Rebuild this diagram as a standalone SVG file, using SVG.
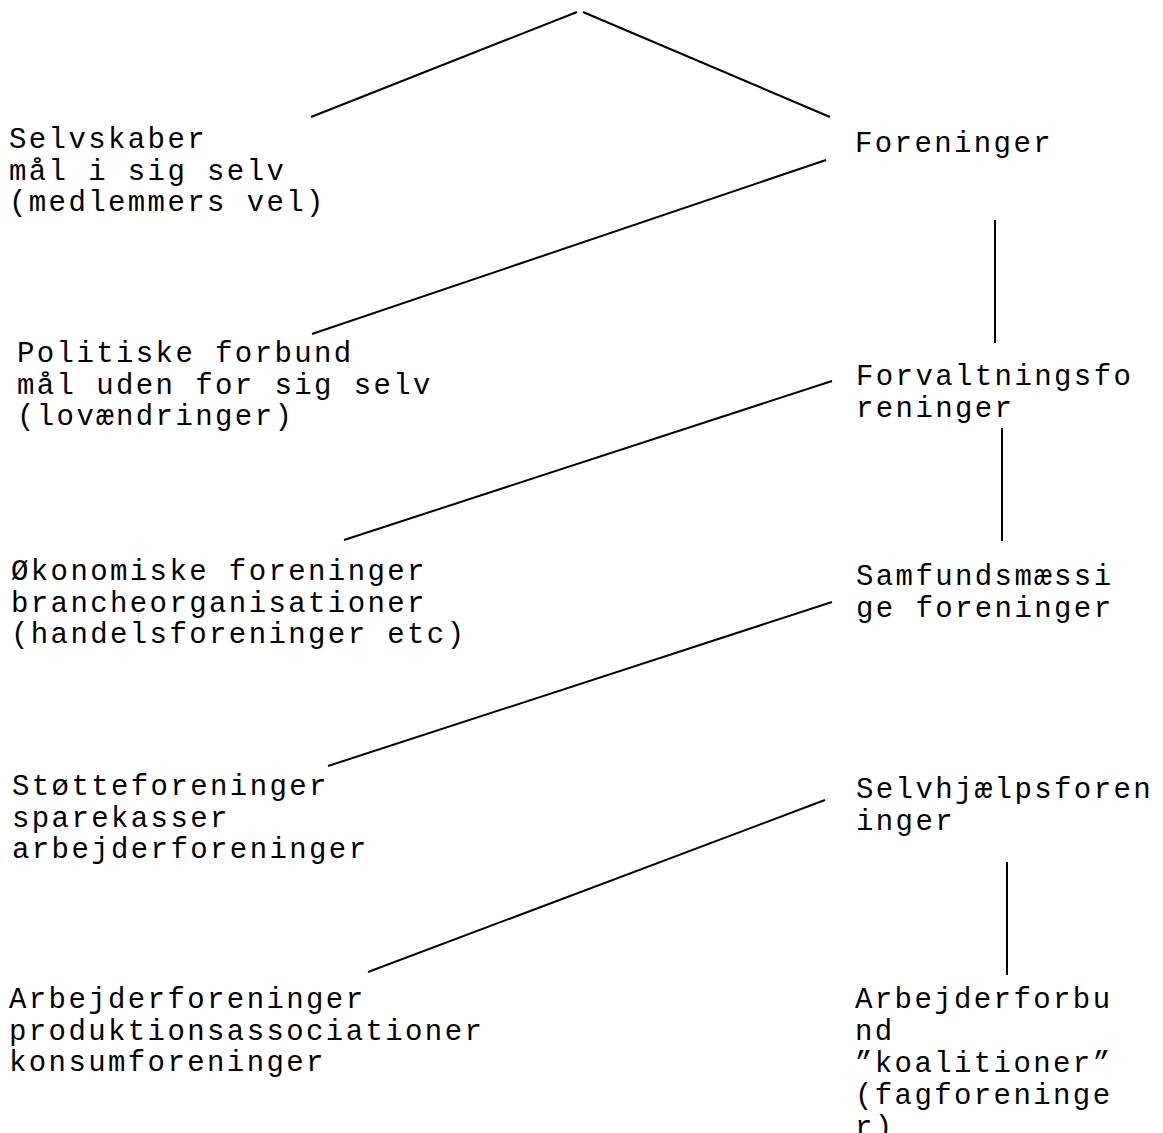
<svg xmlns="http://www.w3.org/2000/svg" width="1163" height="1133" viewBox="0 0 1163 1133">
<style>
text { font-family: "Liberation Mono", "Courier New", monospace; font-size: 29px; letter-spacing: 2.4px; fill: #000; }
line { stroke: #000; stroke-width: 2; }
</style>
<rect width="1163" height="1133" fill="#fff"/>
<g id="connectors">
<line x1="311" y1="117" x2="577" y2="12"/>
<line x1="583" y1="12" x2="830" y2="117"/>
<line x1="826" y1="160" x2="312" y2="334"/>
<line x1="995" y1="220" x2="995" y2="343"/>
<line x1="832" y1="381" x2="344" y2="540"/>
<line x1="1002" y1="428" x2="1002" y2="541"/>
<line x1="832" y1="602" x2="328" y2="766"/>
<line x1="825" y1="800" x2="368" y2="972"/>
<line x1="1007" y1="862" x2="1007" y2="975"/>
</g>
<g id="selvskaber"><text x="9" y="148">Selvskaber</text><text x="9" y="180">mål i sig selv</text><text x="9" y="211">(medlemmers vel)</text></g>
<g id="politiske"><text x="17" y="362">Politiske forbund</text><text x="17" y="394">mål uden for sig selv</text><text x="17" y="425">(lovændringer)</text></g>
<g id="okonomiske"><text x="11" y="580">Økonomiske foreninger</text><text x="11" y="612">brancheorganisationer</text><text x="11" y="643">(handelsforeninger etc)</text></g>
<g id="stotte"><text x="12" y="795">Støtteforeninger</text><text x="12" y="827">sparekasser</text><text x="12" y="858">arbejderforeninger</text></g>
<g id="arbejderforeninger"><text x="9" y="1008">Arbejderforeninger</text><text x="9" y="1040">produktionsassociationer</text><text x="9" y="1071">konsumforeninger</text></g>
<g id="foreninger"><text x="855" y="152">Foreninger</text></g>
<g id="forvaltning"><text x="856" y="385">Forvaltningsfo</text><text x="856" y="417">reninger</text></g>
<g id="samfund"><text x="856" y="585">Samfundsmæssi</text><text x="856" y="617">ge foreninger</text></g>
<g id="selvhjaelp"><text x="856" y="798">Selvhjælpsforen</text><text x="856" y="830">inger</text></g>
<g id="arbejderforbund"><text x="855" y="1008">Arbejderforbu</text><text x="855" y="1040">nd</text><text x="855" y="1072">”koalitioner”</text><text x="855" y="1104">(fagforeninge</text><text x="855" y="1136">r)</text></g>
</svg>
